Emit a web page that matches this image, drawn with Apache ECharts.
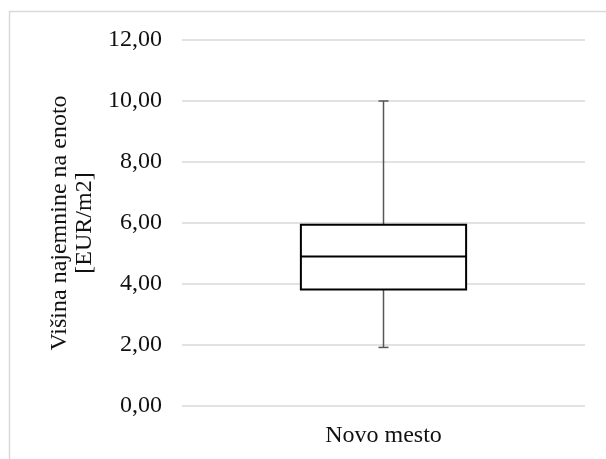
<!DOCTYPE html>
<html>
<head>
<meta charset="utf-8">
<script src="https://cdn.jsdelivr.net/npm/echarts@6/dist/echarts.min.js"></script>
<style>
  html, body { margin: 0; padding: 0; background: #fff; }
  #chart { width: 606px; height: 459px; }
</style>
</head>
<body>
<div id="chart"></div>
<script>
// Rent per unit area, box summary for one town
const categories = ['Novo mesto'];
// [min, Q1, median, Q3, max]
const boxStats = [[1.92, 3.82, 4.90, 5.94, 10.00]];
const yTicks = [0, 2, 4, 6, 8, 10, 12];
const yTitle = 'Višina najemnine na enoto\n[EUR/m2]';

const FONT = '"Liberation Serif", "Times New Roman", serif';
const GRID_COLOR = '#d9d9d9';
const TEXT_COLOR = '#111';

const chart = echarts.init(document.getElementById('chart'), null, { renderer: 'canvas' });

const seriesData = boxStats.map((s, i) => [i].concat(s));

function renderBox(params, api) {
  const idx = api.value(0);
  const lo = api.coord([idx, api.value(1)]);
  const q1 = api.coord([idx, api.value(2)]);
  const med = api.coord([idx, api.value(3)]);
  const q3 = api.coord([idx, api.value(4)]);
  const hi = api.coord([idx, api.value(5)]);
  const bandW = api.size([1, 0])[0];
  const boxW = bandW * 0.41;
  const capW = 10;
  const x = lo[0];
  const whisker = { stroke: '#555', lineWidth: 1.5 };
  const boxLine = { stroke: '#000', lineWidth: 2 };
  return {
    type: 'group',
    children: [
      { type: 'line', shape: { x1: x, y1: q3[1], x2: x, y2: hi[1] }, style: whisker },
      { type: 'line', shape: { x1: x, y1: q1[1], x2: x, y2: lo[1] }, style: whisker },
      { type: 'line', shape: { x1: x - capW / 2, y1: hi[1], x2: x + capW / 2, y2: hi[1] }, style: whisker },
      { type: 'line', shape: { x1: x - capW / 2, y1: lo[1], x2: x + capW / 2, y2: lo[1] }, style: whisker },
      { type: 'rect', shape: { x: x - boxW / 2, y: q3[1], width: boxW, height: q1[1] - q3[1] },
        style: Object.assign({ fill: '#fff' }, boxLine) },
      { type: 'line', shape: { x1: x - boxW / 2, y1: med[1], x2: x + boxW / 2, y2: med[1] }, style: boxLine }
    ]
  };
}

chart.setOption({
  animation: false,
  backgroundColor: '#fff',
  textStyle: { fontFamily: FONT },
  graphic: [{
    type: 'rect',
    shape: { x: 9.5, y: 11.5, width: 620, height: 470 },
    style: { fill: 'none', stroke: GRID_COLOR, lineWidth: 1.5 },
    silent: true
  }],
  grid: { left: 182, right: 21, top: 40, bottom: 53 },
  xAxis: {
    type: 'category',
    data: categories,
    axisLine: { show: false },
    axisTick: { show: false },
    axisLabel: { fontFamily: FONT, fontSize: 24, color: TEXT_COLOR, margin: 18 },
    splitLine: { show: false }
  },
  yAxis: {
    type: 'value',
    min: yTicks[0],
    max: yTicks[yTicks.length - 1],
    interval: 2,
    name: yTitle,
    nameLocation: 'middle',
    nameRotate: 90,
    nameGap: 83,
    nameTextStyle: { fontFamily: FONT, fontSize: 24, color: TEXT_COLOR, lineHeight: 25 },
    axisLine: { show: false },
    axisTick: { show: false },
    axisLabel: {
      fontFamily: FONT, fontSize: 24, color: TEXT_COLOR, margin: 20,
      formatter: v => v.toFixed(2).replace('.', ',')
    },
    splitLine: { lineStyle: { color: GRID_COLOR, width: 1.5 } }
  },
  series: [{
    type: 'custom',
    renderItem: renderBox,
    encode: { x: 0, y: [1, 2, 3, 4, 5] },
    data: seriesData
  }]
});
</script>
</body>
</html>
